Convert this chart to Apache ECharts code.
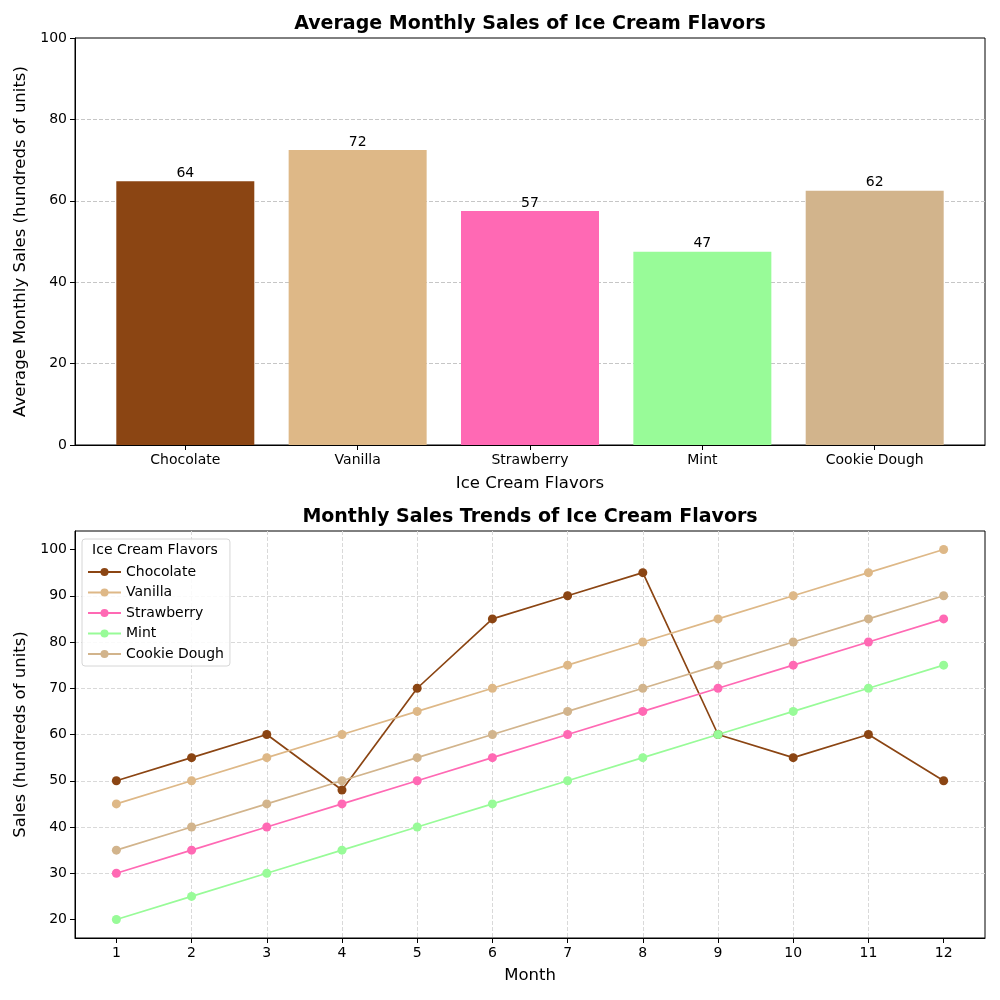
<!DOCTYPE html>
<html>
<head>
<meta charset="utf-8">
<script src="https://cdn.jsdelivr.net/npm/echarts@6/dist/echarts.min.js"></script>
<style>
  html, body { margin: 0; padding: 0; background: #fff; }
  #chart { width: 1000px; height: 1000px; }
</style>
</head>
<body>
<div id="chart"></div>
<script>
// data
const flavors = ['Chocolate', 'Vanilla', 'Strawberry', 'Mint', 'Cookie Dough'];
const flavorColors = ['#8B4513', '#DEB887', '#FF69B4', '#98FB98', '#D2B48C'];
const avgSales = [64.83, 72.5, 57.5, 47.5, 62.5];
const avgLabels = [64, 72, 57, 47, 62];
const barPositions = [0, 1, 2, 3, 4];
const barYTicks = [0, 20, 40, 60, 80, 100];

const months = [1, 2, 3, 4, 5, 6, 7, 8, 9, 10, 11, 12];
const chocolate = [50, 55, 60, 48, 70, 85, 90, 95, 60, 55, 60, 50];
const vanilla = [45, 50, 55, 60, 65, 70, 75, 80, 85, 90, 95, 100];
const strawberry = [30, 35, 40, 45, 50, 55, 60, 65, 70, 75, 80, 85];
const mint = [20, 25, 30, 35, 40, 45, 50, 55, 60, 65, 70, 75];
const cookieDough = [35, 40, 45, 50, 55, 60, 65, 70, 75, 80, 85, 90];
const lineYTicks = [20, 30, 40, 50, 60, 70, 80, 90, 100];

const monthly = [chocolate, vanilla, strawberry, mint, cookieDough];

const FONT = 'DejaVu Sans';
const chart = echarts.init(document.getElementById('chart'));

const tickLabel = { fontFamily: FONT, fontSize: 14, color: '#000', margin: 8 };
const axisName = { fontFamily: FONT, fontSize: 16.5, color: '#000' };
const blackLine = { show: true, onZero: false, lineStyle: { color: '#000', width: 1 } };
const outTick = { show: true, inside: false, length: 5, lineStyle: { color: '#000', width: 1 } };

const option = {
  animation: false,
  backgroundColor: '#fff',
  graphic: [
    { type: 'text', x: 530, y: 24, z: 100,
      style: { text: 'Average Monthly Sales of Ice Cream Flavors', textAlign: 'center', textVerticalAlign: 'middle',
               font: 'bold 19px "DejaVu Sans"', fill: '#000' } },
    { type: 'text', x: 530, y: 517, z: 100,
      style: { text: 'Monthly Sales Trends of Ice Cream Flavors', textAlign: 'center', textVerticalAlign: 'middle',
               font: 'bold 19px "DejaVu Sans"', fill: '#000' } },
    { type: 'text', x: 155, y: 550, z: 100,
      style: { text: 'Ice Cream Flavors', textAlign: 'center', textVerticalAlign: 'middle',
               font: '14px "DejaVu Sans"', fill: '#000' } }
  ],
  grid: [
    { left: 75, top: 38, width: 910, height: 407, show: true, borderColor: '#000', borderWidth: 1, containLabel: false },
    { left: 75, top: 531, width: 910, height: 407, show: true, borderColor: '#000', borderWidth: 1, containLabel: false }
  ],
  legend: {
    orient: 'vertical',
    left: 82,
    top: 539,
    padding: [26, 6, 5, 5],
    backgroundColor: 'rgba(255,255,255,0.85)',
    borderColor: '#d6d6d6',
    borderWidth: 1,
    borderRadius: 3,
    itemWidth: 33,
    itemHeight: 10,
    itemGap: 6.5,
    textStyle: { fontFamily: FONT, fontSize: 14, color: '#000' },
    data: flavors
  },
  xAxis: [
    {
      type: 'value', gridIndex: 0, min: -0.64, max: 4.64, splitNumber: 5,
      name: 'Ice Cream Flavors', nameLocation: 'middle', nameGap: 30, nameTextStyle: axisName,
      axisLine: blackLine, axisTick: Object.assign({ customValues: barPositions }, outTick),
      axisLabel: Object.assign({ customValues: barPositions,
        formatter: v => (Number.isInteger(v) && flavors[v]) ? flavors[v] : '' }, tickLabel),
      splitLine: { show: false }
    },
    {
      type: 'value', gridIndex: 1, min: 0.45, max: 12.55, splitNumber: 12,
      name: 'Month', nameLocation: 'middle', nameGap: 29, nameTextStyle: axisName,
      axisLine: blackLine, axisTick: Object.assign({ customValues: months }, outTick),
      axisLabel: Object.assign({ customValues: months,
        formatter: v => Number.isInteger(v) ? String(v) : '' }, tickLabel),
      splitLine: { show: true, showMinLine: false, showMaxLine: false,
                   lineStyle: { color: '#d9d9d9', type: [4, 2], width: 1 } }
    }
  ],
  yAxis: [
    {
      type: 'value', gridIndex: 0, min: 0, max: 100, interval: 20,
      name: 'Average Monthly Sales (hundreds of units)', nameLocation: 'middle', nameGap: 44,
      nameTextStyle: axisName,
      axisLine: blackLine, axisTick: Object.assign({ customValues: barYTicks }, outTick),
      axisLabel: Object.assign({ customValues: barYTicks }, tickLabel),
      splitLine: { show: true, showMinLine: false, showMaxLine: false,
                   lineStyle: { color: '#c6c6c6', type: [4, 2], width: 1 } }
    },
    {
      type: 'value', gridIndex: 1, min: 16, max: 104, splitNumber: 9,
      name: 'Sales (hundreds of units)', nameLocation: 'middle', nameGap: 44,
      nameTextStyle: axisName,
      axisLine: blackLine, axisTick: Object.assign({ customValues: lineYTicks }, outTick),
      axisLabel: Object.assign({ customValues: lineYTicks,
        formatter: v => (v % 10 === 0) ? String(v) : '' }, tickLabel),
      splitLine: { show: true, showMinLine: false, showMaxLine: false,
                   lineStyle: { color: '#d9d9d9', type: [4, 2], width: 1 } }
    }
  ],
  series: [
    {
      name: 'Average',
      type: 'bar',
      xAxisIndex: 0,
      yAxisIndex: 0,
      barWidth: 138,
      data: avgSales.map((v, i) => ({ value: [barPositions[i], v], itemStyle: { color: flavorColors[i] } })),
      label: {
        show: true, position: 'top', distance: 1,
        fontFamily: FONT, fontSize: 14, color: '#000',
        formatter: p => String(avgLabels[p.dataIndex])
      }
    }
  ].concat(flavors.map((name, k) => ({
    name: name,
    type: 'line',
    xAxisIndex: 1,
    yAxisIndex: 1,
    symbol: 'circle',
    symbolSize: 9,
    color: flavorColors[k],
    lineStyle: { width: 1.7, color: flavorColors[k] },
    itemStyle: { color: flavorColors[k] },
    data: months.map((m, i) => [m, monthly[k][i]])
  })))
};

chart.setOption(option);
</script>
</body>
</html>
